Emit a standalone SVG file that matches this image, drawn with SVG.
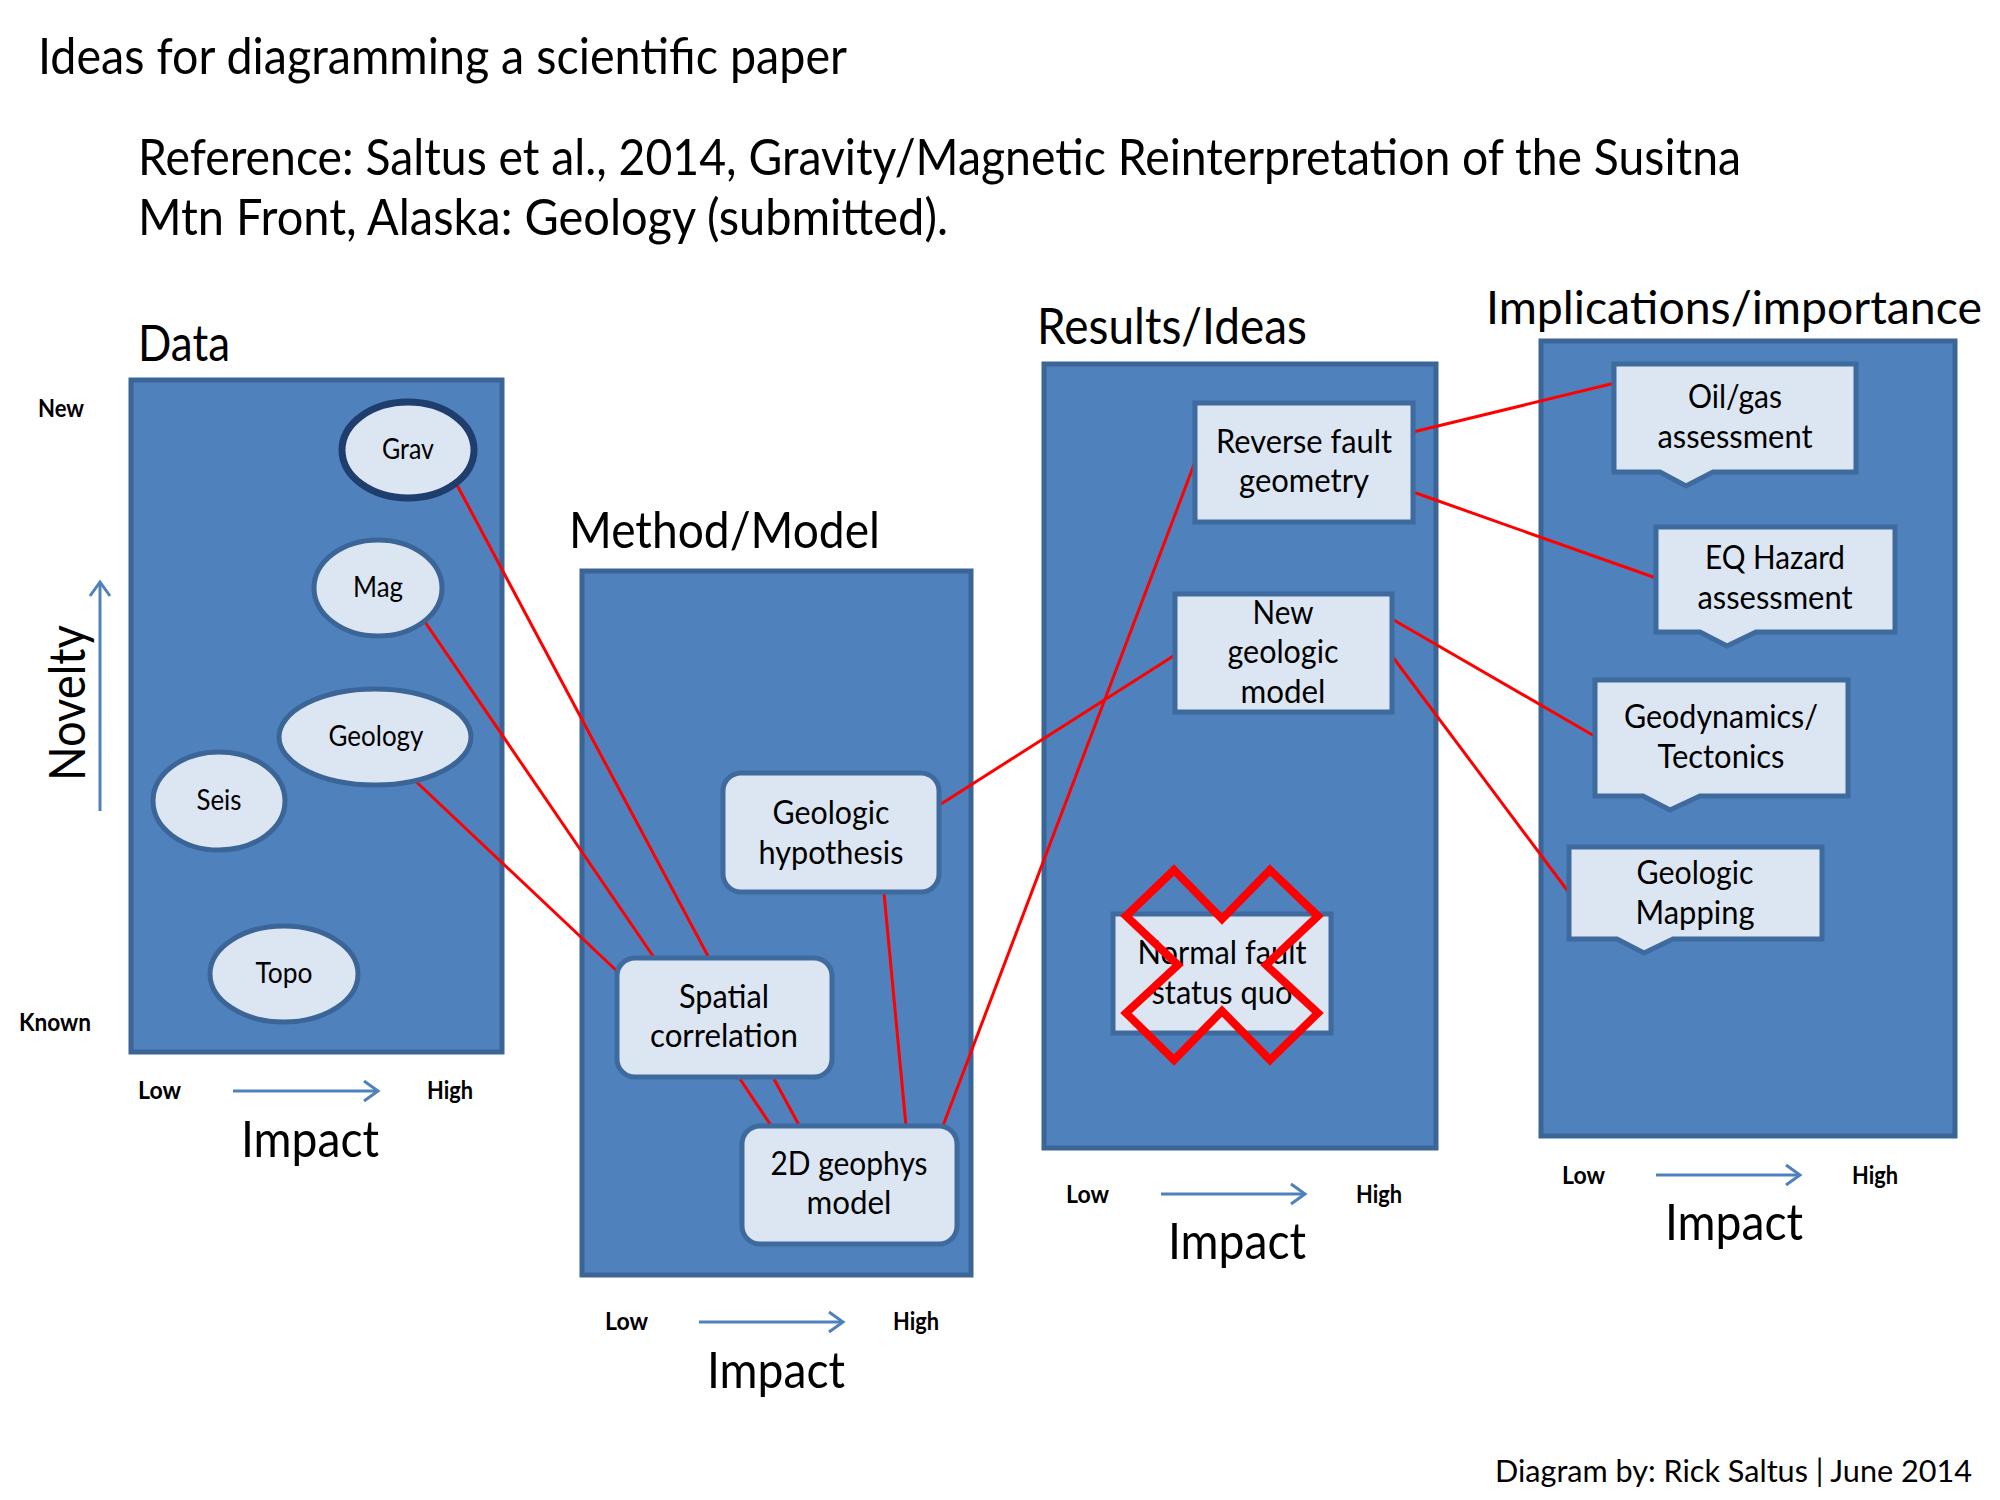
<svg xmlns="http://www.w3.org/2000/svg" width="2000" height="1500" viewBox="0 0 2000 1500">
<style>
text { font-family: Lato, "Liberation Sans", sans-serif; fill: #000; }
.big { font-size: 50px; }
.lbl { font-size: 33px; }
.olbl { font-size: 28px; }
.sm { font-size: 25px; font-weight: bold; }
.panel { fill: #4F81BD; stroke: #3A6596; stroke-width: 5; }
.node { fill: #DCE6F2; stroke: #3E6A9E; stroke-width: 5; }
.oval { fill: #DCE6F2; stroke: #3A6596; stroke-width: 5; }
.dark { stroke: #1F3E6E; stroke-width: 7; }
.link { stroke: #FF0000; stroke-width: 3; fill: none; }
.axis { stroke: #4F81BD; stroke-width: 3; fill: none; }
.cross { fill: none; stroke: #FF0000; stroke-width: 8; stroke-linejoin: miter; }
</style>
<defs>
<marker id="chev" markerUnits="userSpaceOnUse" markerWidth="30" markerHeight="30" viewBox="-20 -15 30 30" refX="0" refY="0" orient="auto">
<path d="M-14,-10 L0,0 L-14,10" fill="none" stroke="#4F81BD" stroke-width="3"/>
</marker>
</defs>
<rect width="2000" height="1500" fill="#FFFFFF"/>

<g id="titles">
<text class="big" x="38" y="74" textLength="809" lengthAdjust="spacingAndGlyphs">Ideas for diagramming a scientific paper</text>
<text class="big" x="138" y="175" textLength="1603" lengthAdjust="spacingAndGlyphs">Reference: Saltus et al., 2014, Gravity/Magnetic Reinterpretation of the Susitna</text>
<text class="big" x="138" y="235" textLength="810" lengthAdjust="spacingAndGlyphs">Mtn Front, Alaska: Geology (submitted).</text>
<text class="big" x="138" y="361" textLength="92" lengthAdjust="spacingAndGlyphs">Data</text>
<text class="big" x="569" y="548" textLength="311" lengthAdjust="spacingAndGlyphs">Method/Model</text>
<text class="big" x="1037" y="344" textLength="270" lengthAdjust="spacingAndGlyphs">Results/Ideas</text>
<text class="big" x="1486" y="324" style="font-size:47px" textLength="496" lengthAdjust="spacingAndGlyphs">Implications/importance</text>
<text class="lbl" x="1495" y="1482" style="font-size:31px" textLength="477" lengthAdjust="spacingAndGlyphs">Diagram by: Rick Saltus | June 2014</text>
</g>

<g id="panels">
<rect id="panel-data" class="panel" x="131" y="380" width="371" height="672"/>
<rect id="panel-method" class="panel" x="582" y="571" width="389" height="704"/>
<rect id="panel-results" class="panel" x="1044" y="364" width="392" height="784"/>
<rect id="panel-implications" class="panel" x="1541" y="341" width="414" height="795"/>
</g>

<g id="axes">
<line class="axis" x1="100" y1="811" x2="100" y2="582" marker-end="url(#chev)"/>
<text class="big" transform="translate(85,781) rotate(-90)" x="0" y="0" textLength="156" lengthAdjust="spacingAndGlyphs">Novelty</text>
<text class="sm" x="38" y="417" textLength="46" lengthAdjust="spacingAndGlyphs">New</text>
<text class="sm" x="19" y="1031" textLength="72" lengthAdjust="spacingAndGlyphs">Known</text>

<text class="sm" x="138" y="1099" textLength="43" lengthAdjust="spacingAndGlyphs">Low</text>
<line class="axis" x1="233" y1="1091" x2="378" y2="1091" marker-end="url(#chev)"/>
<text class="sm" x="427" y="1099" textLength="46" lengthAdjust="spacingAndGlyphs">High</text>
<text class="big" x="241" y="1157" textLength="138" lengthAdjust="spacingAndGlyphs">Impact</text>

<text class="sm" x="605" y="1330" textLength="43" lengthAdjust="spacingAndGlyphs">Low</text>
<line class="axis" x1="699" y1="1322" x2="843" y2="1322" marker-end="url(#chev)"/>
<text class="sm" x="893" y="1330" textLength="46" lengthAdjust="spacingAndGlyphs">High</text>
<text class="big" x="707" y="1388" textLength="138" lengthAdjust="spacingAndGlyphs">Impact</text>

<text class="sm" x="1066" y="1203" textLength="43" lengthAdjust="spacingAndGlyphs">Low</text>
<line class="axis" x1="1161" y1="1194" x2="1305" y2="1194" marker-end="url(#chev)"/>
<text class="sm" x="1356" y="1203" textLength="46" lengthAdjust="spacingAndGlyphs">High</text>
<text class="big" x="1168" y="1259" textLength="138" lengthAdjust="spacingAndGlyphs">Impact</text>

<text class="sm" x="1562" y="1184" textLength="43" lengthAdjust="spacingAndGlyphs">Low</text>
<line class="axis" x1="1656" y1="1175" x2="1800" y2="1175" marker-end="url(#chev)"/>
<text class="sm" x="1852" y="1184" textLength="46" lengthAdjust="spacingAndGlyphs">High</text>
<text class="big" x="1665" y="1240" textLength="138" lengthAdjust="spacingAndGlyphs">Impact</text>
</g>

<g id="connectors">
<line class="link" x1="457" y1="485" x2="708" y2="956"/>
<line class="link" x1="425" y1="622" x2="653" y2="956"/>
<line class="link" x1="408" y1="774" x2="619" y2="973"/>
<line class="link" x1="740" y1="1079" x2="772" y2="1127"/>
<line class="link" x1="774" y1="1079" x2="800" y2="1127"/>
<line class="link" x1="884" y1="893" x2="906" y2="1126"/>
<line class="link" x1="941" y1="804" x2="1175" y2="655"/>
<line class="link" x1="941" y1="1131" x2="1195" y2="462"/>
<line class="link" x1="1413" y1="432" x2="1615" y2="383"/>
<line class="link" x1="1413" y1="492" x2="1656" y2="578"/>
<line class="link" x1="1392" y1="619" x2="1596" y2="737"/>
<line class="link" x1="1392" y1="656" x2="1570" y2="894"/>
</g>

<g id="node-grav">
<ellipse class="oval dark" cx="408" cy="450" rx="66" ry="48"/>
<text class="olbl" x="408" y="459" text-anchor="middle" textLength="52" lengthAdjust="spacingAndGlyphs">Grav</text>
</g>
<g id="node-mag">
<ellipse class="oval" cx="378" cy="588" rx="64" ry="48"/>
<text class="olbl" x="378" y="597" text-anchor="middle" textLength="50" lengthAdjust="spacingAndGlyphs">Mag</text>
</g>
<g id="node-geology">
<ellipse class="oval" cx="375" cy="737" rx="96" ry="48"/>
<text class="olbl" x="376" y="746" text-anchor="middle" textLength="95" lengthAdjust="spacingAndGlyphs">Geology</text>
</g>
<g id="node-seis">
<ellipse class="oval" cx="219" cy="801" rx="66" ry="49"/>
<text class="olbl" x="219" y="810" text-anchor="middle" textLength="45" lengthAdjust="spacingAndGlyphs">Seis</text>
</g>
<g id="node-topo">
<ellipse class="oval" cx="284" cy="974" rx="74" ry="48"/>
<text class="olbl" x="284" y="983" text-anchor="middle" textLength="57" lengthAdjust="spacingAndGlyphs">Topo</text>
</g>

<g id="node-geologic-hypothesis">
<rect class="node" x="723" y="773" width="216" height="119" rx="18"/>
<text class="lbl" x="831" y="824" text-anchor="middle" textLength="117" lengthAdjust="spacingAndGlyphs">Geologic</text>
<text class="lbl" x="831" y="864" text-anchor="middle" textLength="145" lengthAdjust="spacingAndGlyphs">hypothesis</text>
</g>
<g id="node-spatial-correlation">
<rect class="node" x="617" y="958" width="215" height="119" rx="18"/>
<text class="lbl" x="724" y="1008" text-anchor="middle" textLength="90" lengthAdjust="spacingAndGlyphs">Spatial</text>
<text class="lbl" x="724" y="1047" text-anchor="middle" textLength="148" lengthAdjust="spacingAndGlyphs">correlation</text>
</g>
<g id="node-2d-geophys-model">
<rect class="node" x="742" y="1126" width="215" height="118" rx="18"/>
<text class="lbl" x="849" y="1175" text-anchor="middle" textLength="157" lengthAdjust="spacingAndGlyphs">2D geophys</text>
<text class="lbl" x="849" y="1214" text-anchor="middle" textLength="85" lengthAdjust="spacingAndGlyphs">model</text>
</g>

<g id="node-reverse-fault">
<rect class="node" x="1195" y="403" width="218" height="119"/>
<text class="lbl" x="1304" y="453" text-anchor="middle" textLength="176" lengthAdjust="spacingAndGlyphs">Reverse fault</text>
<text class="lbl" x="1304" y="492" text-anchor="middle" textLength="130" lengthAdjust="spacingAndGlyphs">geometry</text>
</g>
<g id="node-new-geologic-model">
<rect class="node" x="1175" y="594" width="217" height="118"/>
<text class="lbl" x="1283" y="624" text-anchor="middle" textLength="61" lengthAdjust="spacingAndGlyphs">New</text>
<text class="lbl" x="1283" y="663" text-anchor="middle" textLength="111" lengthAdjust="spacingAndGlyphs">geologic</text>
<text class="lbl" x="1283" y="703" text-anchor="middle" textLength="85" lengthAdjust="spacingAndGlyphs">model</text>
</g>
<g id="node-normal-fault">
<rect class="node" x="1113" y="914" width="218" height="119"/>
<text class="lbl" x="1222" y="964" text-anchor="middle" textLength="169" lengthAdjust="spacingAndGlyphs">Normal fault</text>
<text class="lbl" x="1222" y="1004" text-anchor="middle" textLength="141" lengthAdjust="spacingAndGlyphs">status quo</text>
<path class="cross" d="M1174,870 L1222,919 L1270,870 L1318,916 L1266,965 L1318,1013 L1270,1060 L1222,1011 L1174,1060 L1126,1013 L1178,965 L1126,916 Z"/>
</g>

<g id="node-oil-gas">
<path class="node" d="M1614,364 H1856 V472 H1713 L1686,486 L1660,472 H1614 Z"/>
<text class="lbl" x="1735" y="408" text-anchor="middle" textLength="94" lengthAdjust="spacingAndGlyphs">Oil/gas</text>
<text class="lbl" x="1735" y="448" text-anchor="middle" textLength="155" lengthAdjust="spacingAndGlyphs">assessment</text>
</g>
<g id="node-eq-hazard">
<path class="node" d="M1656,527 H1895 V632 H1756 L1727,646 L1700,632 H1656 Z"/>
<text class="lbl" x="1775" y="569" text-anchor="middle" textLength="140" lengthAdjust="spacingAndGlyphs">EQ Hazard</text>
<text class="lbl" x="1775" y="609" text-anchor="middle" textLength="155" lengthAdjust="spacingAndGlyphs">assessment</text>
</g>
<g id="node-geodynamics">
<path class="node" d="M1595,680 H1848 V796 H1700 L1670,810 L1643,796 H1595 Z"/>
<text class="lbl" x="1721" y="728" text-anchor="middle" textLength="194" lengthAdjust="spacingAndGlyphs">Geodynamics/</text>
<text class="lbl" x="1721" y="768" text-anchor="middle" textLength="127" lengthAdjust="spacingAndGlyphs">Tectonics</text>
</g>
<g id="node-geologic-mapping">
<path class="node" d="M1569,847 H1822 V939 H1673 L1644,953 L1617,939 H1569 Z"/>
<text class="lbl" x="1695" y="884" text-anchor="middle" textLength="117" lengthAdjust="spacingAndGlyphs">Geologic</text>
<text class="lbl" x="1695" y="924" text-anchor="middle" textLength="119" lengthAdjust="spacingAndGlyphs">Mapping</text>
</g>
</svg>
